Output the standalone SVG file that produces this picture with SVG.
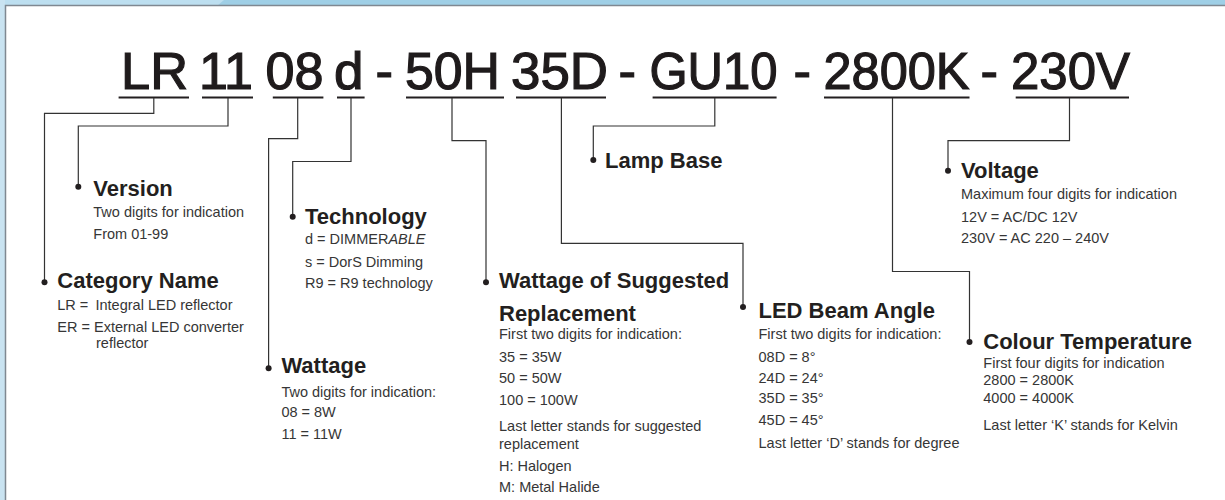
<svg xmlns="http://www.w3.org/2000/svg" width="1225" height="500" viewBox="0 0 1225 500">
<style>
text{font-family:"Liberation Sans",Arial,Helvetica,sans-serif}
.big{font-size:52.5px;fill:#1f1b1c;stroke:#1f1b1c;stroke-width:1.2}
.h{font-size:22px;font-weight:bold;fill:#231f20}
.t{font-size:14.5px;fill:#363636}
.ul{stroke:#231f20;stroke-width:2}
.c{fill:none;stroke:#333;stroke-width:1.2}
.dot{fill:#231f20}
</style>
<rect x="0" y="0" width="1225" height="500" fill="#9fcfe6"/>
<polygon points="0,0 224,0 217,6 0,6" fill="#bddff0"/>
<rect x="0" y="0" width="5" height="500" fill="#c9e3f1"/>
<rect x="5" y="5" width="1220" height="495" fill="#ffffff"/>
<path d="M5.5,500 V5.5 H1225" fill="none" stroke="#7f8891" stroke-width="1.5"/>

<g id="title">
  <g id="seg-LR"><text class="big" x="121" y="88.5" textLength="67" lengthAdjust="spacingAndGlyphs">LR</text><line class="ul" x1="118.6" y1="97.5" x2="189" y2="97.5"/></g>
  <g id="seg-11"><text class="big" x="199" y="88.5" textLength="54" lengthAdjust="spacingAndGlyphs">11</text><line class="ul" x1="202" y1="97.5" x2="253" y2="97.5"/></g>
  <g id="seg-08"><text class="big" x="265.5" y="88.5" textLength="58" lengthAdjust="spacingAndGlyphs">08</text><line class="ul" x1="272.8" y1="97.5" x2="323.4" y2="97.5"/></g>
  <g id="seg-d"><text class="big" x="334" y="88.5" textLength="29.5" lengthAdjust="spacingAndGlyphs">d</text><line class="ul" x1="337" y1="97.5" x2="364.6" y2="97.5"/></g>
  <text class="big" x="375.5" y="88.5">-</text>
  <g id="seg-50H"><text class="big" x="405" y="88.5" textLength="95" lengthAdjust="spacingAndGlyphs">50H</text><line class="ul" x1="406" y1="97.5" x2="504" y2="97.5"/></g>
  <g id="seg-35D"><text class="big" x="511" y="88.5" textLength="97" lengthAdjust="spacingAndGlyphs">35D</text><line class="ul" x1="516" y1="97.5" x2="606" y2="97.5"/></g>
  <text class="big" x="618.5" y="88.5">-</text>
  <g id="seg-GU10"><text class="big" x="649.5" y="88.5" textLength="128" lengthAdjust="spacingAndGlyphs">GU10</text><line class="ul" x1="652.6" y1="97.5" x2="776.6" y2="97.5"/></g>
  <text class="big" x="793.5" y="88.5">-</text>
  <g id="seg-2800K"><text class="big" x="823.5" y="88.5" textLength="146" lengthAdjust="spacingAndGlyphs">2800K</text><line class="ul" x1="824" y1="97.5" x2="969.5" y2="97.5"/></g>
  <text class="big" x="980.5" y="88.5">-</text>
  <g id="seg-230V"><text class="big" x="1011" y="88.5" textLength="119" lengthAdjust="spacingAndGlyphs">230V</text><line class="ul" x1="1015.7" y1="97.5" x2="1129" y2="97.5"/></g>
</g>

<g id="connectors">
  <polyline class="c" points="153.8,98 153.8,113.3 44.5,113.3 44.5,282.3"/>
  <polyline class="c" points="228,98 228,126 78.3,126 78.3,186.7"/>
  <polyline class="c" points="297.7,98 297.7,138.7 268.6,138.7 268.6,368.3"/>
  <polyline class="c" points="351,98 351,161.5 292.7,161.5 292.7,216.7"/>
  <polyline class="c" points="452,98 452,140.7 486,140.7 486,282.3"/>
  <polyline class="c" points="561.4,98 561.4,243.3 743,243.3 743,307"/>
  <polyline class="c" points="714.8,98 714.8,126 593.3,126 593.3,160"/>
  <polyline class="c" points="892.5,98 892.5,271.5 969.5,271.5 969.5,342"/>
  <polyline class="c" points="1069.5,98 1069.5,140.7 948,140.7 948,170.7"/>
</g>

<g id="version">
  <circle class="dot" cx="78.3" cy="186.7" r="3"/>
  <text class="h" x="93.3" y="196">Version</text>
  <text class="t" x="93.3" y="217.3">Two digits for indication</text>
  <text class="t" x="93.3" y="239">From 01-99</text>
</g>

<g id="category">
  <circle class="dot" cx="44.5" cy="282.3" r="3"/>
  <text class="h" x="57.3" y="288.3">Category Name</text>
  <text class="t" x="57.3" y="310">LR = <tspan x="95.5">Integral LED reflector</tspan></text>
  <text class="t" x="57.3" y="331.7">ER = External LED converter</text>
  <text class="t" x="96" y="348.3">reflector</text>
</g>

<g id="technology">
  <circle class="dot" cx="292.7" cy="216.7" r="3"/>
  <text class="h" x="305" y="224">Technology</text>
  <text class="t" x="305" y="244">d = DIMMER<tspan font-style="italic">ABLE</tspan></text>
  <text class="t" x="305" y="266.7">s = DorS Dimming</text>
  <text class="t" x="305" y="288.3">R9 = R9 technology</text>
</g>

<g id="wattage">
  <circle class="dot" cx="268.6" cy="368.3" r="3"/>
  <text class="h" x="281.4" y="373.3">Wattage</text>
  <text class="t" x="281.4" y="396.7">Two digits for indication:</text>
  <text class="t" x="281.4" y="417.3">08 = 8W</text>
  <text class="t" x="281.4" y="439.3">11 = 11W</text>
</g>

<g id="wattage-suggested">
  <circle class="dot" cx="486" cy="282.3" r="3"/>
  <text class="h" x="499" y="287.7">Wattage of Suggested</text>
  <text class="h" x="499" y="321">Replacement</text>
  <text class="t" x="499" y="339.3">First two digits for indication:</text>
  <text class="t" x="499" y="361.5">35 = 35W</text>
  <text class="t" x="499" y="383.3">50 = 50W</text>
  <text class="t" x="499" y="405">100 = 100W</text>
  <text class="t" x="499" y="431">Last letter stands for suggested</text>
  <text class="t" x="499" y="449.3">replacement</text>
  <text class="t" x="499" y="471">H: Halogen</text>
  <text class="t" x="499" y="491.7">M: Metal Halide</text>
</g>

<g id="lamp-base">
  <circle class="dot" cx="593.3" cy="160" r="3"/>
  <text class="h" x="605" y="168.3">Lamp Base</text>
</g>

<g id="beam-angle">
  <circle class="dot" cx="743" cy="307" r="3"/>
  <text class="h" x="758.5" y="318.3">LED Beam Angle</text>
  <text class="t" x="758.5" y="339.3">First two digits for indication:</text>
  <text class="t" x="758.5" y="361.7">08D = 8°</text>
  <text class="t" x="758.5" y="382.7">24D = 24°</text>
  <text class="t" x="758.5" y="403.3">35D = 35°</text>
  <text class="t" x="758.5" y="425">45D = 45°</text>
  <text class="t" x="758.5" y="448.3">Last letter ‘D’ stands for degree</text>
</g>

<g id="voltage">
  <circle class="dot" cx="948" cy="170.7" r="3"/>
  <text class="h" x="961" y="178.3">Voltage</text>
  <text class="t" x="961" y="199.3">Maximum four digits for indication</text>
  <text class="t" x="961" y="221.7">12V = AC/DC 12V</text>
  <text class="t" x="961" y="243.3">230V = AC 220 – 240V</text>
</g>

<g id="colour-temperature">
  <circle class="dot" cx="969.5" cy="342" r="3"/>
  <text class="h" x="983.3" y="349.3">Colour Temperature</text>
  <text class="t" x="983.3" y="367.5">First four digits for indication</text>
  <text class="t" x="983.3" y="385">2800 = 2800K</text>
  <text class="t" x="983.3" y="402.5">4000 = 4000K</text>
  <text class="t" x="983.3" y="429.5">Last letter ‘K’ stands for Kelvin</text>
</g>
</svg>
